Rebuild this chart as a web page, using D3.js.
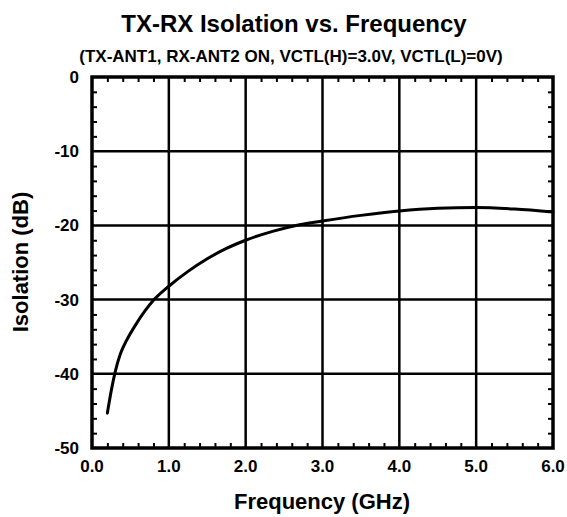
<!DOCTYPE html>
<html><head><meta charset="utf-8">
<script src="https://cdn.jsdelivr.net/npm/d3@7"></script>
<style>body{margin:0;background:#fff}svg{display:block}text{font-family:"Liberation Sans",Arial,sans-serif;font-weight:bold}</style>
</head><body><svg id="c" width="567" height="517"></svg>
<script>
const title = "TX-RX Isolation vs. Frequency";
const subtitle = "(TX-ANT1, RX-ANT2 ON, VCTL(H)=3.0V, VCTL(L)=0V)";
const xLabel = "Frequency (GHz)";
const yLabel = "Isolation (dB)";
const xTicks = [0, 1, 2, 3, 4, 5, 6];
const yTicks = [0, -10, -20, -30, -40, -50];
const freq = [0.2, 0.25, 0.31, 0.37, 0.45, 0.58, 0.8, 1.0, 1.25, 1.5, 1.75, 2.0, 2.35, 2.7, 3.0, 3.5, 4.0, 4.5, 5.0, 5.5, 6.0];
const isolation = [-45.3, -42.3, -39.4, -37.3, -35.5, -33.2, -30.1, -28.2, -26.2, -24.5, -23.1, -22.0, -20.8, -19.9, -19.4, -18.65, -18.05, -17.7, -17.6, -17.8, -18.2];

const svg = d3.select("#c");
const L = 92, R = 553, T = 77, B = 448;
const x = d3.scaleLinear().domain([0, 6]).range([L, R]);
const y = d3.scaleLinear().domain([-50, 0]).range([B, T]);

// grid
const g = svg.append("g");
g.selectAll("line.vx").data(xTicks.slice(1, -1)).join("line")
  .attr("x1", d => x(d)).attr("x2", d => x(d)).attr("y1", T).attr("y2", B)
  .attr("stroke", "#000").attr("stroke-width", 2.5);
g.selectAll("line.hy").data(yTicks.slice(1, -1)).join("line")
  .attr("y1", d => y(d)).attr("y2", d => y(d)).attr("x1", L).attr("x2", R)
  .attr("stroke", "#000").attr("stroke-width", 2.5);

// minor ticks
const xMinor = d3.range(0, 6.001, 0.2).filter(v => Math.abs(v - Math.round(v)) > 1e-6);
const yMinor = d3.range(-50, 0.001, 2).filter(v => v % 10 !== 0);
const tl = 5;
svg.append("g").call(d3.axisBottom(x).tickValues(xMinor).tickSize(-tl).tickFormat(""))
  .attr("transform", `translate(0,${B})`);
svg.append("g").call(d3.axisTop(x).tickValues(xMinor).tickSize(-tl).tickFormat(""))
  .attr("transform", `translate(0,${T})`);
svg.append("g").call(d3.axisLeft(y).tickValues(yMinor).tickSize(-tl).tickFormat(""))
  .attr("transform", `translate(${L},0)`);
svg.append("g").call(d3.axisRight(y).tickValues(yMinor).tickSize(-tl).tickFormat(""))
  .attr("transform", `translate(${R},0)`);
svg.selectAll(".domain").remove();
svg.selectAll(".tick line").attr("stroke", "#000").attr("stroke-width", 2);

// curve
const line = d3.line().x((d, i) => x(freq[i])).y(d => y(d)).curve(d3.curveMonotoneX);
svg.append("path").attr("d", line(isolation)).attr("fill", "none")
  .attr("stroke", "#000").attr("stroke-width", 3).attr("stroke-linejoin", "round").attr("stroke-linecap", "round");

// frame
svg.append("rect").attr("x", L).attr("y", T).attr("width", R - L).attr("height", B - T)
  .attr("fill", "none").attr("stroke", "#000").attr("stroke-width", 3.5);

// tick labels
svg.append("g").selectAll("text").data(xTicks).join("text")
  .attr("x", d => x(d)).attr("y", 472).attr("text-anchor", "middle")
  .attr("font-size", 17).text(d => d.toFixed(1));
svg.append("g").selectAll("text").data(yTicks).join("text")
  .attr("x", 79).attr("y", d => y(d) + 6).attr("text-anchor", "end")
  .attr("font-size", 17).text(d => d);

// titles
svg.append("text").attr("x", 294).attr("y", 32).attr("text-anchor", "middle").attr("font-size", 24).text(title);
svg.append("text").attr("x", 291).attr("y", 62).attr("text-anchor", "middle").attr("font-size", 17).text(subtitle);
svg.append("text").attr("x", 322).attr("y", 509).attr("text-anchor", "middle").attr("font-size", 22).text(xLabel);
svg.append("text").attr("transform", "translate(28,262) rotate(-90)").attr("text-anchor", "middle").attr("font-size", 22).text(yLabel);
</script></body></html>
